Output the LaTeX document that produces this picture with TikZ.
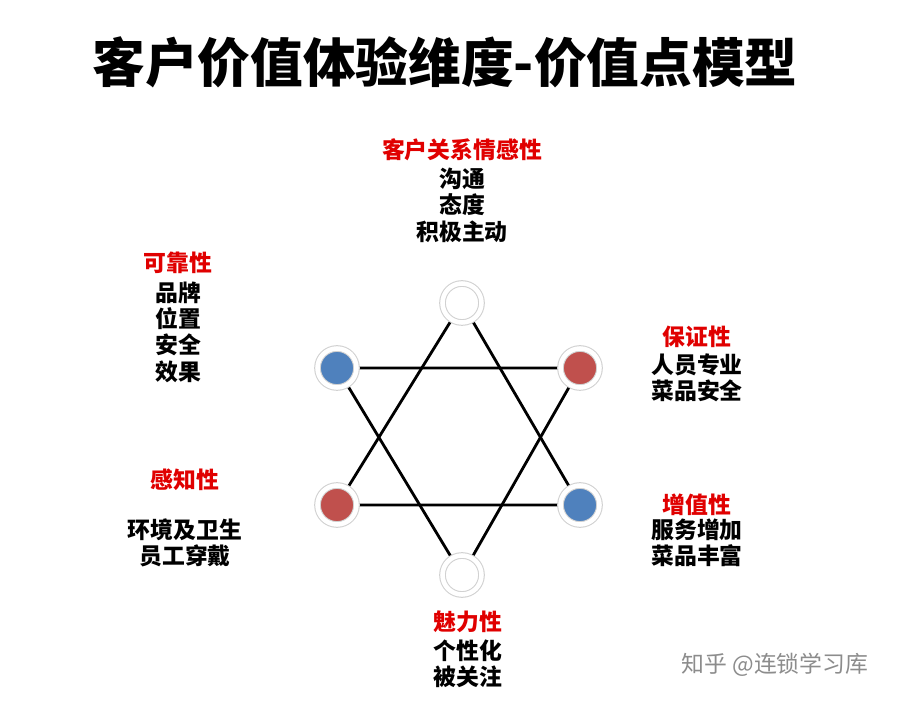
\documentclass[tikz,border=0pt]{standalone}
\usepackage{fontspec}
\setmainfont{Noto Sans CJK SC}
\usetikzlibrary{shadows}
\definecolor{dotblue}{HTML}{4F81BD}
\definecolor{dotred}{HTML}{C0504D}
\definecolor{headred}{HTML}{E00000}
\tikzset{
  dot/.style={circle,draw=black!18,line width=0.6pt,double=white,double distance=2.6pt,
    minimum size=0.78cm,inner sep=0pt,
    drop shadow={shadow xshift=0.6pt,shadow yshift=-1pt,opacity=0.4,fill=black!60}},
  head/.style={text=headred,font=\fontsize{13}{15}\selectfont\bfseries},
  item/.style={font=\fontsize{13}{15}\selectfont\bfseries,align=center},
  star/.style={line width=1.6pt}
}
\begin{document}
\begin{tikzpicture}[x=0.02cm,y=-0.02cm]
  \useasboundingbox (0,0) rectangle (909,705);
  \node[font=\fontsize{30}{34}\selectfont\bfseries] (title) at (445,62) {客户价值体验维度-价值点模型};

  % star points
  \coordinate (pt) at (462,303);
  \coordinate (pb) at (462,575);
  \coordinate (pul) at (337,368);
  \coordinate (pur) at (580,368);
  \coordinate (pll) at (337,505);
  \coordinate (plr) at (580,505);
  \draw[star] (pt) -- (pll) -- (plr) -- cycle;
  \draw[star] (pb) -- (pul) -- (pur) -- cycle;
  \node[dot,fill=white] (top) at (pt) {};
  \node[dot,fill=white] (bot) at (pb) {};
  \node[dot,fill=dotblue] (ul) at (pul) {};
  \node[dot,fill=dotred] (ur) at (pur) {};
  \node[dot,fill=dotred] (ll) at (pll) {};
  \node[dot,fill=dotblue] (lr) at (plr) {};

  % labels
  \node[head] (h1) at (462,150) {客户关系情感性};
  \node[item] (t1) at (462,205) {沟通\\态度\\积极主动};
  \node[head] (h2) at (178,263) {可靠性};
  \node[item] (t2) at (178,332) {品牌\\位置\\安全\\效果};
  \node[head] (h3) at (697,337) {保证性};
  \node[item] (t3) at (697,378) {人员专业\\菜品安全};
  \node[head] (h4) at (185,480) {感知性};
  \node[item] (t4) at (185,543) {环境及卫生\\员工穿戴};
  \node[head] (h5) at (697,505) {增值性};
  \node[item] (t5) at (697,543) {服务增加\\菜品丰富};
  \node[head] (h6) at (468,622) {魅力性};
  \node[item] (t6) at (468,664) {个性化\\被关注};

  \node[text=black!45,font=\fontsize{13}{15}\selectfont] (mark) at (775,665) {知乎 @连锁学习库};
\end{tikzpicture}
\end{document}
